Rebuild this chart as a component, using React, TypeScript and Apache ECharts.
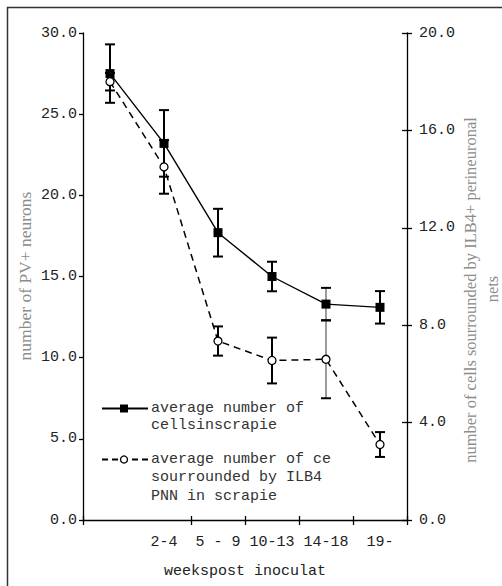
import React, { useEffect, useRef } from "react";
import * as echarts from "echarts";

const categories = ["", "2-4", "5 - 9", "10-13", "14-18", "19-"];
const pvMean = [27.5, 23.2, 17.7, 15.0, 13.3, 13.1];
const pvErr = [1.8, 2.05, 1.47, 0.91, 1.0, 1.0];
const pnnMean = [18.0, 14.5, 7.35, 6.55, 6.6, 3.1];
const pnnErr = [0.36, 1.1, 0.6, 0.94, 1.6, 0.51];

const leftTicks = { min: 0, max: 30, interval: 5 };
const rightTicks = { min: 0, max: 20, interval: 4 };

const yLeftName = "number of PV+ neurons";
const yRightName = "number of cells sourrounded by ILB4+ perineuronal";
const yRightName2 = "nets";
const xName = "weekspost inoculat";
const legend1 = ["average number of", "cellsinscrapie"];
const legend2 = ["average number of ce", "sourrounded by ILB4", "PNN in scrapie"];

const MONO = "'Liberation Mono', 'DejaVu Sans Mono', monospace";
const SERIF = "'Liberation Serif', 'DejaVu Serif', serif";

const tickInterval = (i: number) => i !== 1;

function errorSeries(mean: number[], err: number[], yAxisIndex: number, name: string) {
  return {
    type: "custom",
    name,
    xAxisIndex: 0,
    yAxisIndex,
    z: 1,
    data: mean.map((m, i) => [i, m, err[i]]),
    encode: { x: 0, y: 1 },
    renderItem: (params: any, api: any) => {
      const i = api.value(0);
      const m = api.value(1);
      const e = api.value(2);
      const top = api.coord([i, m + e]);
      const bot = api.coord([i, m - e]);
      const hw = 5;
      const faint = params.dataIndex === 4;
      const cap = { stroke: "#000", lineWidth: 2 };
      return {
        type: "group",
        children: [
          {
            type: "line",
            shape: { x1: top[0], y1: top[1], x2: bot[0], y2: bot[1] },
            style: faint ? { stroke: "#666", lineWidth: 1.3 } : cap,
          },
          { type: "line", shape: { x1: top[0] - hw, y1: top[1], x2: top[0] + hw, y2: top[1] }, style: cap },
          { type: "line", shape: { x1: bot[0] - hw, y1: bot[1], x2: bot[0] + hw, y2: bot[1] }, style: cap },
        ],
      };
    },
  };
}

export default function App() {
  const ref = useRef<HTMLDivElement>(null);
  useEffect(() => {
    if (!ref.current) return;
    const chart = echarts.init(ref.current, null, { renderer: "svg" });
    const labelStyle = { fontFamily: MONO, fontSize: 15, color: "#222" };
    const option: any = {
      animation: false,
      backgroundColor: "#fff",
      grid: { left: 83, right: 95, top: 33, bottom: 66 },
      xAxis: [
        {
          type: "category",
          data: categories,
          position: "bottom",
          boundaryGap: true,
          axisLine: { onZero: false, lineStyle: { color: "#000", width: 1.3 } },
          axisTick: { show: true, length: 5, interval: tickInterval, lineStyle: { color: "#000", width: 1.3 } },
          axisLabel: { ...labelStyle, margin: 15, interval: 0 },
          splitLine: { show: false },
          name: xName,
          nameLocation: "middle",
          nameGap: 44,
          nameTextStyle: { fontFamily: MONO, fontSize: 15, color: "#222" },
        },
        {
          type: "category",
          data: categories,
          position: "bottom",
          boundaryGap: true,
          axisLine: { show: false, onZero: false },
          axisTick: { show: true, inside: true, length: 4, interval: tickInterval, lineStyle: { color: "#000", width: 1.3 } },
          axisLabel: { show: false },
          splitLine: { show: false },
        },
      ],
      yAxis: [
        {
          type: "value",
          position: "left",
          ...leftTicks,
          axisLine: { show: true, lineStyle: { color: "#000", width: 1.3 } },
          axisTick: { show: true, length: 4, lineStyle: { color: "#000", width: 1.3 } },
          axisLabel: { ...labelStyle, margin: 6, formatter: (v: number) => v.toFixed(1) },
          splitLine: { show: false },
        },
        {
          type: "value",
          position: "right",
          ...rightTicks,
          axisLine: { show: true, lineStyle: { color: "#000", width: 1.3 } },
          axisTick: { show: true, length: 5, lineStyle: { color: "#000", width: 1.3 } },
          axisLabel: { ...labelStyle, margin: 12, formatter: (v: number) => v.toFixed(1) },
          splitLine: { show: false },
        },
        {
          type: "value",
          position: "right",
          ...rightTicks,
          axisLine: { show: false },
          axisTick: { show: true, inside: true, length: 5, lineStyle: { color: "#000", width: 1.3 } },
          axisLabel: { show: false },
          splitLine: { show: false },
        },
      ],
      series: [
        errorSeries(pvMean, pvErr, 0, "pvErr"),
        errorSeries(pnnMean, pnnErr, 1, "pnnErr"),
        {
          type: "line",
          name: "pv",
          yAxisIndex: 0,
          z: 3,
          data: pvMean,
          symbol: "rect",
          symbolSize: 9,
          itemStyle: { color: "#000" },
          lineStyle: { color: "#000", width: 1.4 },
        },
        {
          type: "line",
          name: "pnn",
          yAxisIndex: 1,
          z: 3,
          data: pnnMean,
          symbol: "circle",
          symbolSize: 8,
          itemStyle: { color: "#fff", borderColor: "#000", borderWidth: 1.3 },
          lineStyle: { color: "#000", width: 1.5, type: [7, 5] },
        },
      ],
      graphic: [
        {
          type: "rect",
          shape: { x: 7.5, y: 7.5, width: 700, height: 800 },
          style: { fill: "none", stroke: "#333", lineWidth: 1.5 },
          silent: true,
        },
        {
          type: "text",
          x: 25,
          y: 276,
          rotation: Math.PI / 2,
          style: { text: yLeftName, fontFamily: SERIF, fontSize: 17.5, fill: "#8c8c8c", align: "center", verticalAlign: "middle" },
        },
        {
          type: "text",
          x: 470,
          y: 290,
          rotation: Math.PI / 2,
          style: { text: yRightName, fontFamily: SERIF, fontSize: 16.5, fill: "#8c8c8c", align: "center", verticalAlign: "middle" },
        },
        {
          type: "text",
          x: 492,
          y: 289,
          rotation: Math.PI / 2,
          style: { text: yRightName2, fontFamily: SERIF, fontSize: 16.5, fill: "#8c8c8c", align: "center", verticalAlign: "middle" },
        },
        // legend entry 1
        { type: "line", shape: { x1: 102, y1: 408.5, x2: 148, y2: 408.5 }, style: { stroke: "#000", lineWidth: 2 } },
        { type: "rect", shape: { x: 120, y: 404.5, width: 8, height: 8 }, style: { fill: "#000" } },
        { type: "text", x: 151, y: 408, style: { text: legend1[0], fontFamily: MONO, fontSize: 15, fill: "#333", verticalAlign: "middle" } },
        { type: "text", x: 151, y: 425, style: { text: legend1[1], fontFamily: MONO, fontSize: 15, fill: "#333", verticalAlign: "middle" } },
        // legend entry 2
        { type: "line", shape: { x1: 102, y1: 459.5, x2: 148, y2: 459.5 }, style: { stroke: "#000", lineWidth: 2, lineDash: [6, 4] } },
        { type: "circle", shape: { cx: 124, cy: 459.5, r: 3.5 }, style: { fill: "#fff", stroke: "#000", lineWidth: 1.3 } },
        { type: "text", x: 151, y: 459, style: { text: legend2[0], fontFamily: MONO, fontSize: 15, fill: "#333", verticalAlign: "middle" } },
        { type: "text", x: 151, y: 477, style: { text: legend2[1], fontFamily: MONO, fontSize: 15, fill: "#333", verticalAlign: "middle" } },
        { type: "text", x: 151, y: 496, style: { text: legend2[2], fontFamily: MONO, fontSize: 15, fill: "#333", verticalAlign: "middle" } },
      ],
    };
    chart.setOption(option);
    return () => chart.dispose();
  }, []);
  return <div ref={ref} style={{ position: "absolute", left: 0, top: 0, width: 502, height: 586 }} />;
}
